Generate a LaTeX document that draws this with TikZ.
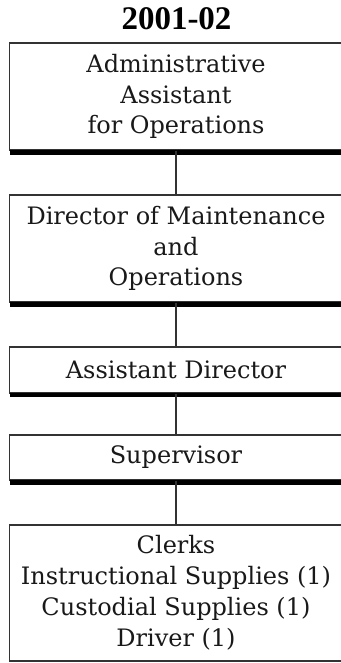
\documentclass[tikz,border=0pt]{standalone}
\usepackage{fontspec}
\setmainfont{DejaVu Serif}
\newfontfamily\titlefont{Liberation Serif}
\usetikzlibrary{calc}

\tikzset{
  post/.style={draw=black!80, line width=1.4pt, fill=white,
    minimum width=333pt, inner sep=0pt, align=center,
    font=\fontsize{24}{30.5}\selectfont, text=black!90},
  link/.style={draw=black!80, line width=1.8pt},
  ledge/.style={fill=black},
}

% heavy bottom edge under a post
\newcommand\heavyedge[2]{%
  \fill[ledge] ($(#1.south west)+(1,-0.7)$) rectangle ($(#1.south east)+(2,#2)$);}

\begin{document}
\begin{tikzpicture}[x=1pt, y=-1pt]
  \useasboundingbox (0,0) rectangle (340,663);

  % heading
  \node[anchor=base, inner sep=0pt, font=\titlefont\bfseries\fontsize{33}{36}\selectfont]
    (title) at (176.5,30) {2001-02};

  % chain of posts, top to bottom
  \node[post, minimum height=107pt] (admin) at (176,96.5)
    {Administrative\\Assistant\\for Operations};
  \node[post, minimum height=107pt] (director) at (176,248.5)
    {Director of Maintenance\\and\\Operations};
  \node[post, minimum height=46pt] (assistant) at (176,370)
    {Assistant Director};
  \node[post, minimum height=45pt] (supervisor) at (176,457.5)
    {Supervisor};
  \node[post, minimum height=136pt, font=\fontsize{24}{31}\selectfont] (clerks) at (176,593)
    {Clerks\\Instructional Supplies (1)\\Custodial Supplies (1)\\Driver (1)};

  \heavyedge{admin}{4}
  \heavyedge{director}{4}
  \heavyedge{assistant}{3}
  \heavyedge{supervisor}{4}

  % reporting lines
  \draw[link] (admin.south) -- (director.north);
  \draw[link] (director.south) -- (assistant.north);
  \draw[link] (assistant.south) -- (supervisor.north);
  \draw[link] (supervisor.south) -- (clerks.north);
\end{tikzpicture}
\end{document}
